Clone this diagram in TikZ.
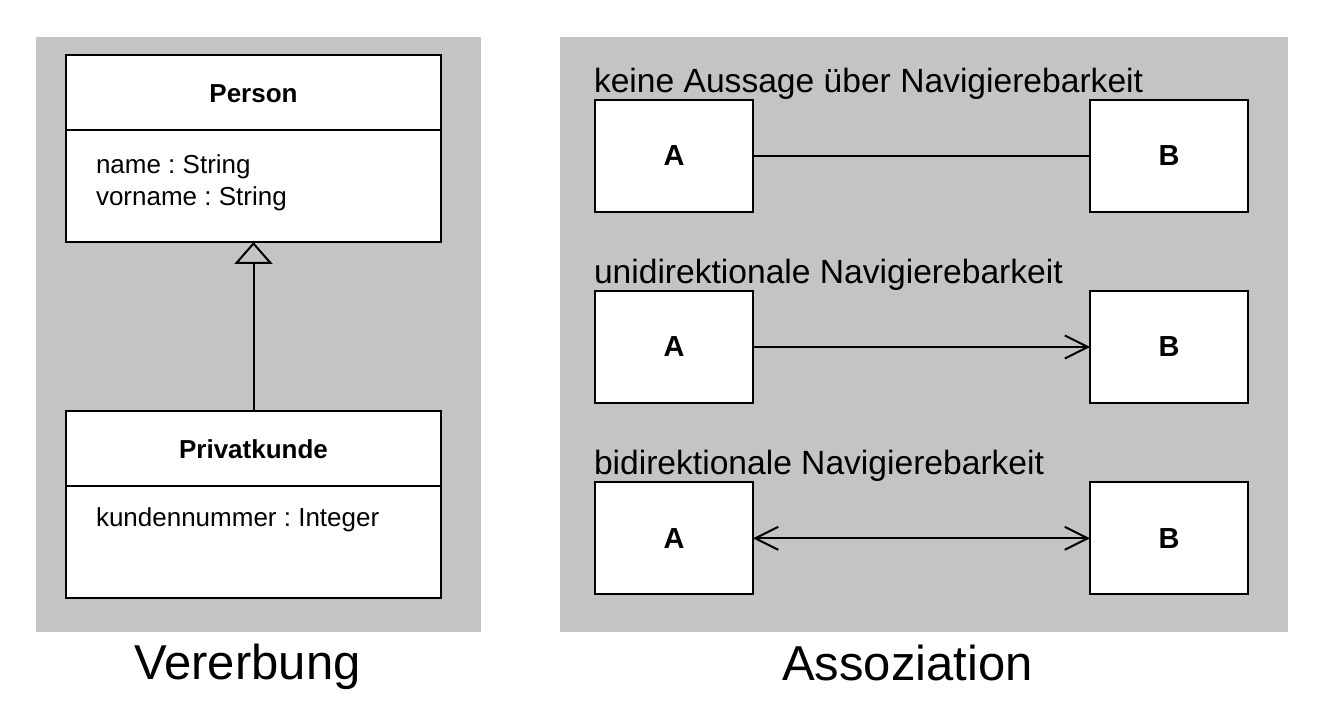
\documentclass[tikz,border=0pt]{standalone}
\usepackage{fontspec}
\setmainfont{Liberation Sans}
\frenchspacing
\usetikzlibrary{arrows.meta,positioning,calc}
\definecolor{panelgray}{RGB}{196,196,196}

\begin{document}
\begin{tikzpicture}[x=0.5pt, y=-0.5pt, line width=1pt,
  classbox/.style={rectangle, draw=black, fill=white, minimum width=187.5pt, minimum height=93.5pt, inner sep=0pt, outer sep=0pt},
  classname/.style={font=\fontsize{13}{15}\selectfont\bfseries, inner sep=0pt, anchor=base},
  attr/.style={font=\fontsize{13}{15}\selectfont, inner sep=0pt, anchor=base west},
  endbox/.style={rectangle, draw=black, fill=white, minimum width=79pt, minimum height=56pt, inner sep=0pt, outer sep=0pt, font=\fontsize{14.5}{17}\selectfont\bfseries},
  rowlabel/.style={font=\fontsize{16.8}{19}\selectfont, inner sep=0pt, anchor=base west},
  caption/.style={font=\fontsize{24.5}{29}\selectfont, inner sep=0pt, anchor=base},
  nav/.style={-{Straight Barb[length=11.5pt, width=11.5pt]}},
  navboth/.style={{Straight Barb[length=11.5pt, width=11.5pt]}-{Straight Barb[length=11.5pt, width=11.5pt]}},
  inherit/.style={-{Triangle[open, length=11pt, width=19pt]}}]

  \useasboundingbox (0,0) rectangle (1335,711);
  \fill[panelgray] (36,37) rectangle (481,632);
  \fill[panelgray] (560,37) rectangle (1288,632);

  % Vererbung
  \node[classbox] (person) at (253.5,148.5) {};
  \node[classname] (personname) at (253.5,102.7) {Person};
  \coordinate (persondiv) at (253.5,130);
  \draw (person.west |- persondiv) -- (person.east |- persondiv);
  \node[attr] (pname) at (95,174) {name : String};
  \node[attr] (pvorname) at (95,205.7) {vorname : String};

  \node[classbox] (kunde) at (253.5,504.5) {};
  \node[classname] (kundename) at (253.5,458.3) {Privatkunde};
  \coordinate (kundediv) at (253.5,486);
  \draw (kunde.west |- kundediv) -- (kunde.east |- kundediv);
  \node[attr] (knummer) at (95,526.7) {kundennummer : Integer};

  \draw[inherit] (kunde.north) -- (person.south);
  \node[caption] (vererbung) at (247.5,679.3) {Vererbung};

  % Assoziation
  \node[rowlabel] (lbl1) at (593,92.7) {keine Aussage über Navigierebarkeit};
  \node[endbox] (a1) at (674,156) {A};
  \node[endbox] (b1) at (1169,156) {B};
  \draw (a1) -- (b1);

  \node[rowlabel] (lbl2) at (593,283.7) {unidirektionale Navigierebarkeit};
  \node[endbox] (a2) at (674,347) {A};
  \node[endbox] (b2) at (1169,347) {B};
  \draw[nav] (a2) -- (b2);

  \node[rowlabel] (lbl3) at (593,474.7) {bidirektionale Navigierebarkeit};
  \node[endbox] (a3) at (674,538.3) {A};
  \node[endbox] (b3) at (1169,538.3) {B};
  \draw[navboth] (a3) -- (b3);

  \node[caption] (assoziation) at (907.5,680) {Assoziation};

\end{tikzpicture}
\end{document}
